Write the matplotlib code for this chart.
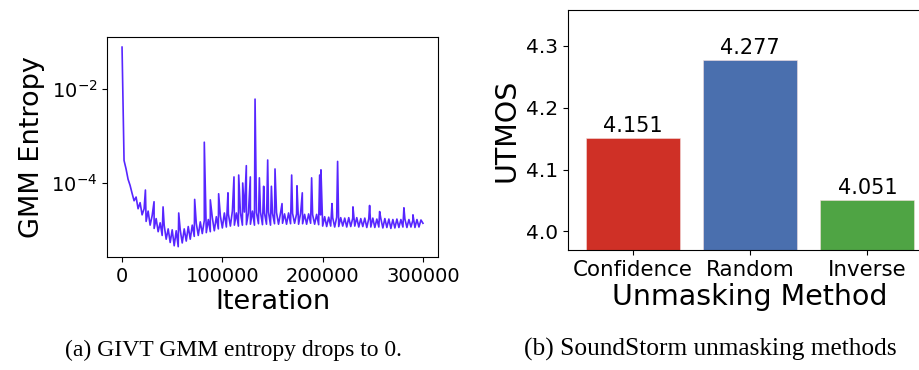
import numpy as np
import matplotlib.pyplot as plt

plt.rcParams['font.family'] = 'DejaVu Sans'
plt.rcParams['path.simplify'] = False

# ---- data for panel (a): GMM entropy over training (log10 values)
step_iter = 2000
base_log = [
    -1.10, -3.52, -3.70, -3.92, -4.05, -4.22, -4.38, -4.30, -4.55, -4.42,
    -4.68, -4.55, -4.82, -4.60, -4.90, -4.70, -4.97, -4.76, -5.04, -4.85,
    -5.12, -4.90, -5.20, -4.98, -5.27, -5.00, -5.34, -5.02, -5.36, -5.00,
    -5.28, -4.98, -5.24, -4.93, -5.20, -4.90, -5.14, -4.86, -5.12, -4.83,
    -5.08, -4.80, -5.06, -4.78, -5.04, -4.74, -5.02, -4.72, -4.98, -4.70,
    -4.96, -4.64, -4.94, -4.66, -4.92, -4.60, -4.90, -4.64, -4.92, -4.63,
    -4.90, -4.62, -4.89, -4.64, -4.88, -4.60, -4.90, -4.63, -4.87, -4.62,
    -4.89, -4.64, -4.88, -4.62, -4.90, -4.65, -4.87, -4.63, -4.88, -4.64,
    -4.86, -4.66, -4.88, -4.64, -4.87, -4.65, -4.86, -4.66, -4.88, -4.65,
    -4.87, -4.67, -4.88, -4.66, -4.86, -4.68, -4.88, -4.67, -4.89, -4.68,
    -4.92, -4.72, -4.93, -4.73, -4.92, -4.74, -4.94, -4.73, -4.93, -4.74,
    -4.92, -4.75, -4.94, -4.74, -4.93, -4.75, -4.92, -4.74, -4.94, -4.76,
    -4.93, -4.75, -4.95, -4.76, -4.94, -4.75, -4.95, -4.77, -4.94, -4.76,
    -4.96, -4.76, -4.95, -4.77, -4.97, -4.78, -4.96, -4.77, -4.95, -4.78,
    -4.94, -4.77, -4.95, -4.78, -4.94, -4.79, -4.95, -4.78, -4.94, -4.79,
    -4.86,
]
spike_iter = [23300, 31900, 40900, 56500, 72400, 82000, 88000, 96300, 105600,
              111600, 116300, 120300, 123900, 127900, 132600, 136900, 141200,
              145200, 148900, 152500, 159500, 169100, 174400, 179700, 189000,
              197000, 198300, 209300, 214900, 230200, 246800, 256800, 281000,
              290000]
spike_log = [-4.15, -4.40, -4.51, -4.64, -4.35, -3.13, -4.36, -4.23, -4.21,
             -3.87, -3.83, -4.00, -3.63, -3.87, -2.21, -3.89, -4.07, -3.51,
             -4.07, -3.70, -4.44, -3.83, -4.06, -4.21, -3.89, -3.83, -3.72,
             -4.44, -3.54, -4.51, -4.48, -4.61, -4.53, -4.68]

# ---- data for panel (b): UTMOS per unmasking method
methods = ['Confidence', 'Random', 'Inverse']
utmos = [4.151, 4.277, 4.051]
bar_colors = ['#cf3026', '#4a6fae', '#4fa444']

it = np.concatenate([np.arange(len(base_log)) * step_iter, spike_iter])
vals = np.concatenate([base_log, spike_log])
order = np.argsort(it, kind='stable')
it, vals = it[order], 10.0 ** vals[order]

fig = plt.figure(figsize=(9.2, 3.7), dpi=100)

# (a) entropy curve
ax1 = fig.add_axes([0.1163, 0.3054, 0.3598, 0.5946])
ax1.plot(it, vals, color='#3a00ff', lw=1.2, alpha=0.85)
ax1.set_yscale('log')
ax1.set_ylim(10 ** -5.58, 10 ** -0.884)
ax1.set_yticks([1e-4, 1e-2])
ax1.minorticks_off()
ax1.set_xticks([0, 100000, 200000, 300000])
ax1.tick_params(labelsize=14)
ax1.set_xlabel('Iteration', fontsize=19.5, labelpad=2)
ax1.set_ylabel('GMM Entropy', fontsize=19.5)

# (b) unmasking methods
ax2 = fig.add_axes([0.6174, 0.3243, 0.3957, 0.6486])
x = np.arange(len(methods))
bars = ax2.bar(x, utmos, width=0.8, color=bar_colors, edgecolor='#f4dede', linewidth=0.4)
for b, v in zip(bars, utmos):
    ax2.text(b.get_x() + b.get_width() / 2, v + 0.003, f'{v:.3f}',
             ha='center', va='bottom', fontsize=15)
ax2.set_xlim(-0.55, 2.55)
ax2.set_ylim(3.97, 4.358)
ax2.set_yticks([4.0, 4.1, 4.2, 4.3])
ax2.set_xticks(x)
ax2.set_xticklabels(methods, fontsize=15.4)
ax2.tick_params(axis='y', labelsize=14.5)
ax2.set_xlabel('Unmasking Method', fontsize=20.5, labelpad=2)
ax2.set_ylabel('UTMOS', fontsize=20.5)

# captions
fig.text(0.2538, 0.0378, '(a) GIVT GMM entropy drops to 0.', ha='center', va='baseline',
         fontsize=17, family='Liberation Serif')
fig.text(0.7717, 0.0378, '(b) SoundStorm unmasking methods', ha='center', va='baseline',
         fontsize=18.3, family='Liberation Serif')

fig.savefig('out.png', dpi=100)
